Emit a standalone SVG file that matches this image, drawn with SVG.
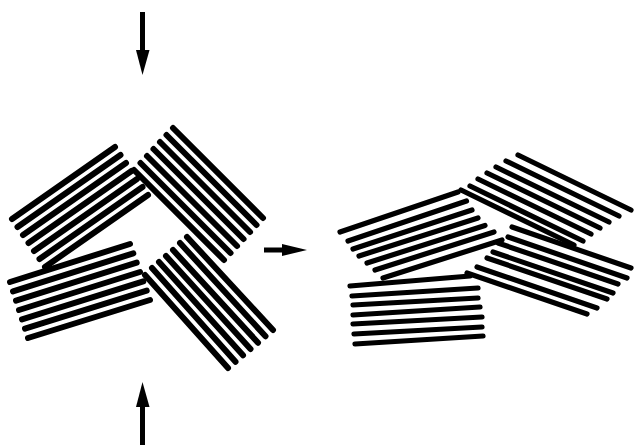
<svg xmlns="http://www.w3.org/2000/svg" width="634" height="445" viewBox="0 0 634 445">
<style>
.l line{stroke:#000;stroke-width:6;stroke-linecap:round;fill:none}
.r line{stroke:#000;stroke-width:5.2;stroke-linecap:round;fill:none}
.arw{fill:#000;stroke:none}
</style>
<rect width="634" height="445" fill="#fff"/>
<g id="left-top-left" class="l">
<line x1="12" y1="219" x2="115" y2="147"/>
<line x1="17.5" y1="227" x2="120.5" y2="155"/>
<line x1="23" y1="235" x2="126" y2="163"/>
<line x1="28.5" y1="243" x2="131.5" y2="171"/>
<line x1="34" y1="251" x2="137" y2="179"/>
<line x1="39.5" y1="259" x2="142.5" y2="187"/>
<line x1="45" y1="267" x2="148" y2="195"/>
</g>
<g id="left-top-right" class="l">
<line x1="173" y1="128" x2="263" y2="218"/>
<line x1="166.5" y1="135" x2="256.5" y2="225"/>
<line x1="160" y1="142" x2="250" y2="232"/>
<line x1="153.5" y1="149" x2="243.5" y2="239"/>
<line x1="147" y1="156" x2="237" y2="246"/>
<line x1="140.5" y1="163" x2="230.5" y2="253"/>
<line x1="134" y1="170" x2="224" y2="260"/>
</g>
<g id="left-bottom-left" class="l">
<line x1="10" y1="282" x2="130" y2="244"/>
<line x1="13" y1="291.3" x2="133.3" y2="253.3"/>
<line x1="16" y1="300.7" x2="136.7" y2="262.7"/>
<line x1="19" y1="310" x2="140" y2="272"/>
<line x1="22" y1="319.3" x2="143.3" y2="281.3"/>
<line x1="25" y1="328.7" x2="146.7" y2="290.7"/>
<line x1="28" y1="338" x2="150" y2="300"/>
</g>
<g id="left-bottom-right" class="l">
<line x1="187" y1="237" x2="273" y2="330"/>
<line x1="180" y1="243" x2="265.5" y2="336.3"/>
<line x1="173" y1="250" x2="258" y2="342.7"/>
<line x1="166" y1="256" x2="250.5" y2="349"/>
<line x1="159" y1="262" x2="243" y2="355.3"/>
<line x1="152" y1="268" x2="235.5" y2="361.7"/>
<line x1="145" y1="275" x2="228" y2="368"/>
</g>
<g id="right-upper-right" class="r">
<line x1="518" y1="155" x2="631" y2="210"/>
<line x1="506" y1="161" x2="619" y2="216"/>
<line x1="496" y1="167" x2="609" y2="222"/>
<line x1="487" y1="173" x2="600" y2="228"/>
<line x1="478" y1="179" x2="591" y2="234"/>
<line x1="470" y1="186" x2="583" y2="241"/>
<line x1="461" y1="190" x2="574" y2="245"/>
</g>
<g id="right-upper-left" class="r">
<line x1="340" y1="232" x2="458" y2="192"/>
<line x1="348" y1="241" x2="466.5" y2="201"/>
<line x1="353" y1="249" x2="472" y2="210"/>
<line x1="359" y1="256" x2="478" y2="218"/>
<line x1="367" y1="263" x2="485" y2="225.5"/>
<line x1="375" y1="270" x2="494" y2="232"/>
<line x1="383" y1="278" x2="502" y2="240"/>
</g>
<g id="right-lower-right" class="r">
<line x1="512" y1="227" x2="631" y2="268"/>
<line x1="508" y1="237" x2="627" y2="278"/>
<line x1="498" y1="243" x2="618" y2="284"/>
<line x1="493" y1="252" x2="613" y2="293"/>
<line x1="487" y1="258" x2="607" y2="299"/>
<line x1="477" y1="267" x2="597" y2="308"/>
<line x1="467" y1="273" x2="587" y2="314"/>
</g>
<g id="right-lower-left" class="r">
<line x1="350" y1="286" x2="470" y2="276"/>
<line x1="352" y1="296" x2="478" y2="288"/>
<line x1="353" y1="305" x2="478" y2="298"/>
<line x1="353" y1="315" x2="480" y2="307"/>
<line x1="353" y1="324" x2="482" y2="317"/>
<line x1="354" y1="334" x2="482" y2="327"/>
<line x1="355" y1="344" x2="483" y2="336"/>
</g>
<g id="arrows">
<rect class="arw" x="140" y="12" width="5" height="40"/>
<polygon class="arw" points="136,50 149.5,50 142.5,75"/>
<rect class="arw" x="140" y="405" width="5" height="40"/>
<polygon class="arw" points="136,407 149.5,407 142.5,382"/>
<rect class="arw" x="264" y="247.5" width="20" height="5"/>
<polygon class="arw" points="282,244 307,250 282,256"/>
</g>
</svg>
